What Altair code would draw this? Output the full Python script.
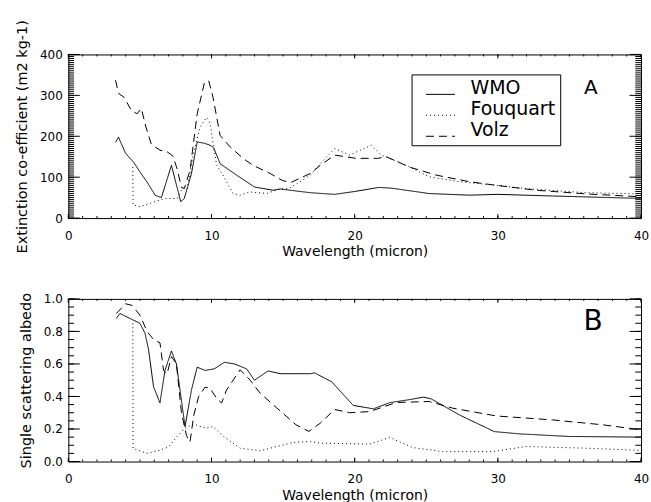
import altair as alt
import pandas as pd

# ---------------- data: extinction coefficient (m2 kg-1) ----------------
wmo_ext_wl = [3.3, 3.5, 4.0, 4.55, 5.0, 5.5, 6.06, 6.5, 7.2, 7.85, 8.1, 8.6, 9.0, 9.5,
              9.9, 10.15, 10.6, 11.75, 13.0, 14.3, 14.8, 16.9, 18.6, 20.0, 21.7, 22.6,
              25.2, 28.0, 30.0, 33.8, 40.0]
wmo_ext = [185, 198, 158, 137, 113, 88, 56, 50, 129, 40, 48, 109, 186, 183,
           178, 172, 133, 105, 76, 68, 71, 62, 58, 65, 75, 73,
           60, 56, 58, 54, 48]

fouquart_ext_wl = [4.5, 4.52, 5.0, 5.7, 6.2, 6.8, 7.6, 7.9, 8.1, 8.3, 8.7, 9.2, 9.66, 9.9,
                   10.13, 10.36, 10.8, 11.5, 12.0, 12.7, 13.85, 14.8, 15.4, 16.9, 17.6,
                   18.6, 19.65, 21.16, 21.86, 23.35, 25.2, 27.3, 29.9, 32.0, 36.15, 40.0]
fouquart_ext = [125, 32, 28, 36, 42, 48, 48, 68, 75, 72, 150, 223, 246, 231,
                178, 129, 105, 60, 56, 64, 60, 72, 72, 105, 133,
                170, 154, 178, 154, 133, 101, 89, 80, 72, 62, 59]

volz_ext_wl = [3.3, 3.5, 3.9, 4.4, 4.8, 5.1, 5.4, 5.8, 6.4, 6.9, 7.3, 7.6, 7.9, 8.1,
               8.5, 9.0, 9.5, 9.8, 10.1, 10.6, 11.3, 12.2, 12.9, 14.1, 15.0, 15.6,
               16.9, 17.6, 18.6, 20.1, 21.6, 22.2, 23.8, 25.7, 28.0, 29.9, 32.7, 36.2, 40.0]
volz_ext = [337, 305, 295, 263, 255, 268, 225, 180, 166, 162, 152, 120, 75, 72,
            117, 255, 330, 336, 296, 202, 174, 146, 129, 109, 91, 88,
            109, 129, 154, 146, 146, 150, 125, 105, 89, 80, 68, 59, 52]

# ---------------- data: single scattering albedo ----------------
wmo_ssa_wl = [3.35, 3.6, 4.3, 5.0, 5.35, 5.6, 5.95, 6.4, 6.75, 7.2, 7.55, 7.8, 8.15, 8.6,
              9.0, 9.55, 10.2, 10.9, 11.6, 12.45, 13.0, 13.95, 14.8, 16.9, 17.2, 18.4,
              19.9, 21.3, 22.5, 23.8, 24.8, 25.35, 27.3, 29.75, 31.5, 35.0, 40.0]
wmo_ssa = [0.88, 0.91, 0.88, 0.85, 0.79, 0.69, 0.46, 0.36, 0.56, 0.68, 0.60, 0.44, 0.215, 0.44,
           0.58, 0.56, 0.57, 0.61, 0.60, 0.57, 0.50, 0.557, 0.54, 0.54, 0.545, 0.49,
           0.345, 0.324, 0.363, 0.38, 0.396, 0.385, 0.287, 0.184, 0.17, 0.154, 0.15]

fouquart_ssa_wl = [4.5, 4.52, 5.5, 6.4, 7.0, 7.6, 8.15, 8.7, 9.65, 10.1, 10.85, 12.0, 13.4,
                   14.55, 15.7, 16.9, 17.6, 21.05, 22.45, 24.05, 26.15, 29.65, 31.95,
                   36.15, 40.0]
fouquart_ssa = [0.85, 0.08, 0.05, 0.07, 0.09, 0.154, 0.205, 0.23, 0.205, 0.215, 0.154, 0.082,
                0.066, 0.092, 0.117, 0.123, 0.113, 0.107, 0.148, 0.086, 0.061, 0.061,
                0.092, 0.082, 0.068]

volz_ssa_wl = [3.35, 4.0, 4.45, 5.0, 5.5, 5.95, 6.4, 6.65, 6.9, 7.2, 7.55, 7.9, 8.25, 8.5,
               8.75, 9.1, 9.55, 9.9, 10.35, 10.7, 11.05, 12.0, 12.7, 13.4, 14.55, 15.9,
               16.8, 17.6, 18.6, 19.65, 21.05, 22.9, 25.2, 26.85, 29.9, 33.8, 37.3, 40.0]
volz_ssa = [0.91, 0.97, 0.96, 0.90, 0.80, 0.75, 0.73, 0.56, 0.54, 0.645, 0.60, 0.30, 0.16, 0.12,
            0.28, 0.40, 0.457, 0.45, 0.39, 0.36, 0.44, 0.564, 0.50, 0.42, 0.33, 0.226,
            0.185, 0.236, 0.32, 0.30, 0.307, 0.363, 0.369, 0.328, 0.28, 0.256, 0.226, 0.195]

schemes = ["WMO", "Fouquart", "Volz"]
dash_styles = [[1, 0], [1, 3], [8, 5]]

x_major = [0, 10, 20, 30, 40]
x_minor = list(range(0, 41))
ext_major = [0, 100, 200, 300, 400]
ext_minor = list(range(0, 401, 5))
ssa_major = [0.0, 0.2, 0.4, 0.6, 0.8, 1.0]
ssa_minor = [round(i * 0.05, 2) for i in range(21)]

W = 574
H_TOP = 164
H_BOT = 163
FONT = "DejaVu Sans"
X_TICK, X_MINOR = 4, 2
Y_TICK, Y_MINOR = 11.5, 5.75


def to_frame(series):
    rows = []
    for name, wl, vals in series:
        for i, (w, v) in enumerate(zip(wl, vals)):
            rows.append({"wl": w, "val": v, "scheme": name, "idx": i})
    return pd.DataFrame(rows)


ext_df = to_frame([("WMO", wmo_ext_wl, wmo_ext),
                   ("Fouquart", fouquart_ext_wl, fouquart_ext),
                   ("Volz", volz_ext_wl, volz_ext)])
ssa_df = to_frame([("WMO", wmo_ssa_wl, wmo_ssa),
                   ("Fouquart", fouquart_ssa_wl, fouquart_ssa),
                   ("Volz", volz_ssa_wl, volz_ssa)])

xscale = alt.Scale(domain=[0, 40], nice=False, zero=False)


def x_ticks(values, length, height, edge):
    """Inward ticks along the bottom or top edge of the box."""
    y0 = height if edge == "bottom" else 0
    y1 = y0 - length if edge == "bottom" else length
    return alt.Chart(pd.DataFrame({"t": values})).mark_rule(
        color="black", strokeWidth=1).encode(
        x=alt.X("t:Q", scale=xscale, axis=None),
        y=alt.value(y0), y2=alt.value(y1))


def y_ticks(values, length, yscale, edge):
    """Inward ticks along the left or right edge of the box."""
    x0 = 0 if edge == "left" else W
    x1 = length if edge == "left" else W - length
    return alt.Chart(pd.DataFrame({"t": values})).mark_rule(
        color="black", strokeWidth=1).encode(
        y=alt.Y("t:Q", scale=yscale, axis=None),
        x=alt.value(x0), x2=alt.value(x1))


def panel(df, yscale, y_major, y_minor, height, ytitle, legend, letter, letter_pos, letter_size):
    lines = alt.Chart(df).mark_line(color="black", strokeWidth=1).encode(
        x=alt.X("wl:Q", scale=xscale,
                axis=alt.Axis(orient="bottom", values=x_major, ticks=False, tickSize=0,
                              domain=False, grid=False, labelPadding=12, labelFontSize=12,
                              labelFont=FONT, labelColor="black", labelFlush=False,
                              title="Wavelength (micron)", titleFontSize=14,
                              titleFont=FONT, titleFontWeight="normal",
                              titleColor="black", titlePadding=4)),
        y=alt.Y("val:Q", scale=yscale,
                axis=alt.Axis(orient="left", values=y_major, ticks=False, tickSize=0,
                              domain=False, grid=False, labelPadding=6, labelFontSize=12,
                              labelFont=FONT, labelColor="black", labelFlush=False,
                              title=ytitle, titleFontSize=14.5, titleFont=FONT,
                              titleFontWeight="normal", titleColor="black",
                              titlePadding=10)),
        strokeDash=alt.StrokeDash("scheme:N",
                                  scale=alt.Scale(domain=schemes, range=dash_styles),
                                  legend=legend),
        detail="scheme:N",
        order="idx:Q",
    )

    ticks = [
        x_ticks(x_major, X_TICK, height, "bottom"),
        x_ticks(x_minor, X_MINOR, height, "bottom"),
        x_ticks(x_major, X_TICK, height, "top"),
        x_ticks(x_minor, X_MINOR, height, "top"),
        y_ticks(y_major, Y_TICK, yscale, "left"),
        y_ticks(y_minor, Y_MINOR, yscale, "left"),
        y_ticks(y_major, Y_TICK, yscale, "right"),
        y_ticks(y_minor, Y_MINOR, yscale, "right"),
    ]

    letter_df = pd.DataFrame({"wl": [letter_pos[0]], "val": [letter_pos[1]], "t": [letter]})
    tag = alt.Chart(letter_df).mark_text(font=FONT, fontSize=letter_size, color="black",
                                         align="center", baseline="middle").encode(
        x=alt.X("wl:Q", scale=xscale, axis=None),
        y=alt.Y("val:Q", scale=yscale, axis=None),
        text="t:N")

    return alt.layer(lines, *ticks, tag).resolve_axis(
        x="independent", y="independent").properties(width=W, height=height)


legend_top = alt.Legend(title=None, orient="none", legendX=344, legendY=20,
                        symbolType="stroke", symbolSize=841, symbolStrokeWidth=1,
                        symbolStrokeColor="black", symbolOffset=9,
                        labelFontSize=19, labelFont=FONT, labelColor="black",
                        labelOffset=15, labelBaseline="alphabetic",
                        labelExpr="datum.label + '  '",
                        padding=5, rowPadding=2, strokeColor="black",
                        fillColor="white", cornerRadius=0)

top = panel(ext_df, alt.Scale(domain=[0, 400], nice=False, zero=False),
            ext_major, ext_minor, H_TOP, "Extinction co-efficient (m2 kg-1)",
            legend_top, "A", (36.5, 317), 20)
bottom = panel(ssa_df, alt.Scale(domain=[0, 1], nice=False, zero=False),
               ssa_major, ssa_minor, H_BOT, "Single scattering albedo",
               None, "B", (36.65, 0.86), 28)

chart = alt.vconcat(top, bottom, spacing=81, bounds="flush").resolve_scale(
    strokeDash="independent"
).properties(
    autosize=alt.AutoSizeParams(type="pad"),
    padding={"left": 13.5, "top": 18, "right": 1, "bottom": 0},
    background="white",
).configure(
    font=FONT,
    view=alt.ViewConfig(stroke="black", strokeWidth=1),
)

chart.save("out.html", embed_options={"renderer": "svg", "actions": False})
